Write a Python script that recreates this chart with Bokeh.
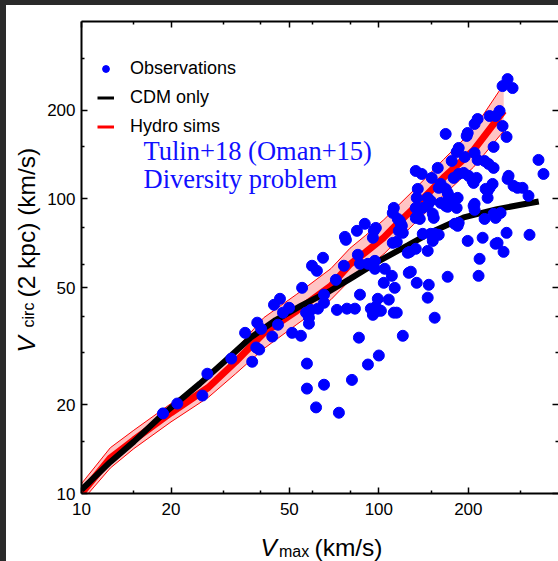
from math import pi
from bokeh.plotting import figure
from bokeh.models import (LogAxis, FixedTicker, PrintfTickFormatter, CustomJSTickFormatter,
                          Label, Legend, LegendItem, Range1d)
from bokeh.layouts import column, row
from bokeh.embed import file_html
from bokeh.resources import INLINE

# ---------------- data ----------------
obs_vmax = [18.8, 21.0, 25.5, 26.5, 31.9, 37.5, 35.5, 39.0, 38.7, 39.6,
            40.2, 43.8, 45.8, 46.5, 44.4, 47.6, 49.9, 51.1, 54.7, 55.2,
            56.9, 58.2, 58.2, 59.1, 62.4, 65.4, 65.4, 59.6, 61.9, 64.9,
            71.7, 76.3, 76.9, 77.5, 84.4, 89.7, 85.0, 86.4, 91.9, 97.0,
            97.0, 97.7, 96.2, 104.7, 110.6, 103.9, 113.1, 86.4, 99.2, 108.0,
            97.7, 99.2, 95.5, 94.0, 112.3, 114.9, 101.6, 72.3, 78.1, 83.1,
            85.7, 120.4, 100.0, 91.9, 81.2, 57.3, 57.3, 65.4, 61.5, 73.4,
            118.5, 116.7, 114.9, 125.1, 126.1, 95.5, 128.1, 134.1, 127.1, 133.1,
            146.0, 147.2, 146.0, 170.4, 154.1, 115.8, 120.4, 111.4, 140.5, 149.4,
            154.1, 159.0, 151.8, 135.2, 137.3, 133.1, 140.5, 146.0, 151.8, 153.0,
            146.0, 149.4, 161.5, 167.8, 170.4, 171.8, 178.5, 184.1, 179.9, 185.6,
            199.0, 208.3, 209.9, 218.2, 216.5, 223.4, 226.8, 232.2, 235.8, 232.2,
            243.2, 247.0, 256.7, 250.8, 262.7, 268.9, 283.8, 292.7, 304.2, 318.7,
            321.2, 134.1, 135.2, 170.4, 182.7, 112.3, 111.4, 117.6, 119.5, 133.1,
            247.0, 271.0, 260.7, 281.7, 254.7, 247.0, 235.8, 214.9, 209.9, 167.8,
            199.0, 197.4, 260.7, 268.9, 243.2, 185.6, 182.7, 194.4, 209.9, 214.9,
            226.8, 233.9, 243.2, 175.8, 157.8, 133.1, 139.4, 150.6, 178.5, 185.6,
            192.9, 200.4, 206.7, 213.2, 208.3, 161.5, 159.0, 167.8, 170.4, 273.1,
            271.0, 241.3, 228.6, 344.3, 357.9, 209.9, 184.1]
obs_vcirc = [18.7, 20.2, 21.5, 25.5, 28.7, 28.0, 35.1, 38.0, 31.3, 30.8,
             36.2, 34.1, 37.4, 45.8, 43.7, 41.1, 42.7, 35.1, 34.3, 49.9,
             41.1, 39.5, 37.7, 42.0, 42.4, 47.3, 44.4, 59.3, 57.0, 63.1,
             53.1, 59.3, 74.3, 72.6, 77.9, 82.3, 64.6, 60.2, 60.2, 61.6,
             57.9, 79.7, 77.9, 57.9, 54.8, 51.9, 49.9, 47.3, 45.8, 45.5,
             43.0, 41.7, 40.4, 42.4, 41.1, 41.1, 41.7, 42.0, 42.4, 42.4,
             33.8, 34.3, 29.4, 27.4, 24.3, 27.6, 22.7, 23.4, 19.6, 18.8,
             82.3, 77.9, 71.5, 65.6, 56.1, 73.8, 56.6, 51.9, 66.1, 67.7,
             66.6, 51.1, 46.2, 54.4, 39.5, 85.5, 76.7, 70.9, 76.1, 76.1,
             76.1, 75.5, 72.0, 87.6, 85.5, 93.2, 93.2, 94.7, 89.0, 86.2,
             100.8, 98.4, 96.9, 94.7, 98.4, 102.4, 98.4, 100.8, 82.3, 82.9,
             72.0, 94.7, 91.8, 62.6, 54.8, 73.8, 85.5, 106.4, 109.0, 100.8,
             89.0, 86.2, 89.6, 70.9, 66.1, 76.7, 110.7, 109.0, 109.0, 102.4,
             75.5, 100.8, 108.1, 94.0, 93.2, 93.2, 89.6, 84.2, 81.0, 86.2,
             70.4, 255.0, 241.5, 237.8, 198.8, 191.1, 191.1, 186.7, 179.6, 166.1,
             167.4, 163.5, 176.8, 162.3, 150.1, 148.9, 144.3, 138.8, 143.2, 135.6,
             134.5, 131.4, 127.4, 134.5, 127.4, 124.4, 121.5, 117.8, 117.8, 121.5,
             122.5, 119.7, 115.1, 117.8, 113.3, 112.4, 109.0, 108.1, 104.8, 119.7,
             116.9, 112.4, 108.1, 135.6, 121.5, 96.2, 81.0]

cdm_vmax = [10, 12.5, 15, 18.6, 25, 32, 37.2, 45, 55, 68, 80, 100, 125, 150, 193, 250, 300, 345]
cdm_vcirc = [10.3, 12.8, 15.0, 18.4, 23.6, 29.5, 33.9, 38.8, 43.5, 48.5, 53.5, 61.5, 69.5, 77.0, 86.5, 92.3, 95.5, 98.0]

hydro_vmax = [10, 12.5, 15, 20, 26.7, 33, 41, 53, 69, 80, 90, 104, 115, 131, 165, 208, 263]
hydro_vcirc = [10, 13.2, 15.2, 18.8, 22.9, 28.0, 35.0, 41.7, 50.7, 60, 65.8, 74, 82, 93, 118, 146, 199]
hydro_lo = [9.4, 12.2, 14.2, 17.5, 21.2, 25.5, 31.0, 37.5, 45.5, 53, 58, 65, 72, 82, 103, 128, 170]
hydro_hi = [10.8, 14.3, 16.4, 20.2, 24.8, 30.8, 39.5, 47.5, 58, 68, 75, 85, 94, 107, 136, 172, 245]

major_ticks = [10, 20, 50, 100, 200]
minor_ticks = [15, 30, 40, 60, 80, 150, 300]

FONT = "Liberation Sans"

# ---------------- main figure ----------------
p = figure(width=514, height=520, x_axis_type="log", y_axis_type="log",
           x_range=Range1d(10, 402), y_range=Range1d(10, 400),
           output_backend="svg", toolbar_location=None,
           min_border_left=36, min_border_right=0, min_border_top=16,
           min_border_bottom=32, background_fill_color="white",
           border_fill_color="white", outline_line_color=None)
p.xgrid.visible = False
p.ygrid.visible = False

bottom_axis = p.below[0]
left_axis = p.left[0]
top_axis = LogAxis()
right_axis = LogAxis()
p.add_layout(top_axis, "above")
p.add_layout(right_axis, "right")

for ax in [bottom_axis, left_axis, top_axis, right_axis]:
    ax.ticker = FixedTicker(ticks=major_ticks, minor_ticks=minor_ticks)
    ax.formatter = PrintfTickFormatter(format="%d")
    ax.major_tick_in = 6
    ax.major_tick_out = 0
    ax.minor_tick_in = 3
    ax.minor_tick_out = 0
    ax.major_tick_line_width = 1.5
    ax.minor_tick_line_width = 1.5
    ax.major_tick_line_color = "black"
    ax.minor_tick_line_color = "black"
    ax.axis_line_width = 2
    ax.axis_line_color = "black"
    ax.major_label_text_font = FONT
    ax.major_label_text_font_size = "17px"
    ax.major_label_text_color = "black"

for ax in [top_axis, right_axis]:
    ax.formatter = CustomJSTickFormatter(code="return ''")
    ax.major_label_text_font_size = "10px"
    ax.major_label_standoff = 0
right_axis.axis_line_color = None
bottom_axis.major_label_standoff = 9
left_axis.major_label_standoff = 6

# band and curves
p.varea(x=hydro_vmax, y1=hydro_lo, y2=hydro_hi, fill_color="#ffc4c4", fill_alpha=1.0)
p.line(hydro_vmax, hydro_lo, line_color="red", line_width=1)
p.line(hydro_vmax, hydro_hi, line_color="red", line_width=1)
p.line(hydro_vmax, hydro_vcirc, line_color="red", line_width=7)
p.line(cdm_vmax, cdm_vcirc, line_color="black", line_width=6)
p.scatter(obs_vmax, obs_vcirc, size=11, fill_color="blue", line_color="blue")

# legend proxies (single point: hidden under real marks / no line segment)
leg_obs = p.scatter(obs_vmax[:1], obs_vcirc[:1], size=10, fill_color="blue", line_color="blue")
leg_cdm = p.line(cdm_vmax[:1], cdm_vcirc[:1], line_color="black", line_width=3)
leg_hyd = p.line(hydro_vmax[:1], hydro_vcirc[:1], line_color="red", line_width=3)
legend = Legend(items=[LegendItem(label="Observations", renderers=[leg_obs]),
                       LegendItem(label="CDM only", renderers=[leg_cdm]),
                       LegendItem(label="Hydro sims", renderers=[leg_hyd])],
                location=(16, 356), border_line_color=None,
                background_fill_alpha=0.0, padding=0, margin=0,
                spacing=8, glyph_width=17, glyph_height=21, label_height=21,
                label_standoff=16, label_text_font=FONT,
                label_text_font_size="18px", label_text_color="black")
p.add_layout(legend, "center")

for txt, yy in [("Tulin+18 (Oman+15)", 343), ("Diversity problem", 315)]:
    p.add_layout(Label(x=62, y=yy, x_units="screen", y_units="screen", text=txt,
                       text_font="Liberation Serif", text_font_size="26.5px",
                       text_color="#1010ff", text_baseline="middle"))


def label_fig(w, h):
    f = figure(width=w, height=h, x_range=Range1d(0, 1), y_range=Range1d(0, 1),
               x_axis_location=None, y_axis_location=None, toolbar_location=None,
               output_backend="svg", min_border=0, min_border_left=0,
               min_border_right=0, min_border_top=0, min_border_bottom=0,
               outline_line_color=None,
               background_fill_color="white", border_fill_color="white")
    f.grid.visible = False
    return f


# x axis title: V_max (km/s)  (its frame is aligned with the main frame, page x = 80)
xlab = label_fig(514, 36)
xlab.add_layout(Label(x=179, y=14.5, x_units="screen", y_units="screen", text="V",
                      text_font=FONT, text_font_style="italic", text_font_size="24.5px",
                      text_color="black", text_baseline="middle"))
xlab.add_layout(Label(x=197.5, y=10, x_units="screen", y_units="screen", text="max",
                      text_font=FONT, text_font_size="16px",
                      text_color="black", text_baseline="middle"))
xlab.add_layout(Label(x=233, y=14.5, x_units="screen", y_units="screen", text="(km/s)",
                      text_font=FONT, text_font_size="24.5px",
                      text_color="black", text_baseline="middle"))

# y axis title: V_circ (2 kpc) (km/s)
ylab = label_fig(38, 556)
ylab.add_layout(Label(x=19.5, y=209, x_units="screen", y_units="screen", text="V", angle=pi / 2,
                      text_font=FONT, text_font_style="italic", text_font_size="24.5px",
                      text_color="black", text_baseline="middle"))
ylab.add_layout(Label(x=22, y=234, x_units="screen", y_units="screen", text="circ", angle=pi / 2,
                      text_font=FONT, text_font_size="16px",
                      text_color="black", text_baseline="middle"))
ylab.add_layout(Label(x=19.5, y=264, x_units="screen", y_units="screen", text="(2 kpc) (km/s)",
                      angle=pi / 2, text_font=FONT, text_font_size="24.5px",
                      text_color="black", text_baseline="middle"))

inner = row(ylab, column(p, xlab, styles={"background-color": "white"}),
            styles={"background-color": "white"})
inner.margin = (5, 0, 0, 6)
layout = column(inner, width=558, height=561, styles={"background-color": "#2a2a2a"})

open("out.html", "w").write(file_html(layout, INLINE))
